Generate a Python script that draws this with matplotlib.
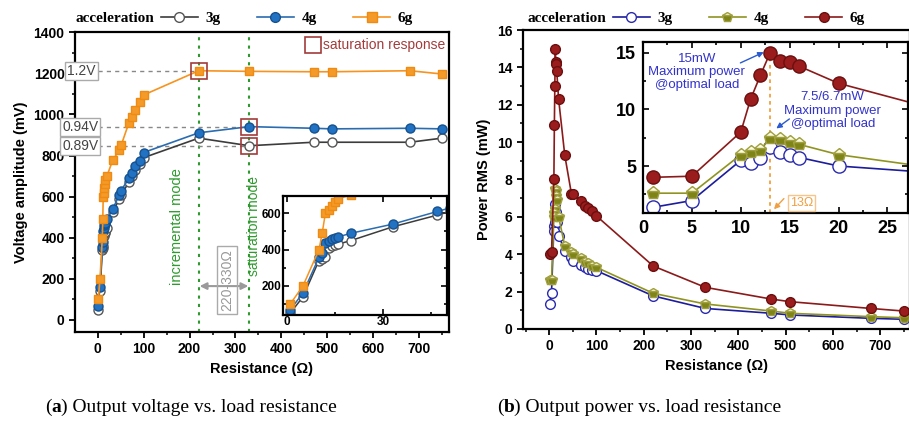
import numpy as np
import matplotlib
matplotlib.use("Agg")
import matplotlib.pyplot as plt
from matplotlib.ticker import MultipleLocator
from matplotlib.lines import Line2D

plt.rcParams['font.family'] = ['Liberation Sans', 'DejaVu Sans']
plt.rcParams['axes.labelweight'] = 'bold'

# load resistance (ohm)
res = [1, 5, 10, 11, 12, 13, 14, 15, 16, 20, 33, 47, 51, 68, 75, 82, 91, 100,
       220, 330, 470, 510, 680, 750]

# output voltage (mV)
volt_3g = [50, 140, 340, 350, 360, 410, 420, 425, 430, 450, 525, 590, 610, 670,
           700, 730, 760, 790, 885, 848, 865, 865, 865, 885]
volt_4g = [68, 162, 357, 380, 435, 450, 460, 465, 470, 490, 540, 610, 630, 690,
           715, 750, 775, 815, 911, 941, 933, 930, 933, 930]
volt_6g = [100, 200, 400, 490, 600, 620, 640, 660, 680, 700, 780, 825, 850, 960,
           990, 1020, 1060, 1095, 1213, 1210, 1208, 1208, 1213, 1197]

# output power RMS (mW)
pow_3g = [1.35, 1.95, 5.5, 5.25, 5.7, 6.7, 6.25, 6.0, 5.75, 5.0, 4.2, 3.85, 3.65,
          3.43, 3.3, 3.2, 3.16, 3.12, 1.77, 1.1, 0.84, 0.75, 0.57, 0.52]
pow_4g = [2.6, 2.6, 6.0, 6.2, 6.4, 7.5, 7.4, 7.1, 6.9, 6.0, 4.45, 4.1, 4.0, 3.78,
          3.6, 3.52, 3.37, 3.3, 1.91, 1.34, 0.96, 0.84, 0.66, 0.6]
pow_6g = [4.0, 4.1, 8.0, 10.9, 13.0, 15.0, 14.3, 14.2, 13.8, 12.3, 9.3, 7.25, 7.2,
          6.85, 6.6, 6.45, 6.3, 6.05, 3.37, 2.23, 1.6, 1.46, 1.1, 0.96]

labels = ['3g', '4g', '6g']

# marker styles for the two panels
sty_a = [dict(color='#3c3c3c', marker='o', mfc='white', mec='#555555', ms=6.5),
         dict(color='#2a6cb0', marker='o', mfc='#2272c3', mec='#16518f', ms=6.5),
         dict(color='#f7931e', marker='s', mfc='#f39a2a', mec='#f08a10', ms=5.5)]
sty_b = [dict(color='#1c1c9c', marker='o', mfc='white', mec='#2a2ab0'),
         dict(color='#8f9420', marker='p', mfc='#7f8418', mec='#a0a040',
              fillstyle='bottom', markerfacecoloralt='#fbfbe0'),
         dict(color='#8b1a1a', marker='o', mfc='#9b1c1c', mec='#6b0f0f')]

fig = plt.figure(figsize=(9.09, 4.25), dpi=100)

def style_main(ax):
    for sp in ax.spines.values():
        sp.set_linewidth(1.6)
    ax.tick_params(which='major', direction='out', length=4, width=1.3, labelsize=10)
    ax.tick_params(which='minor', direction='out', length=2.5, width=1.1)

def style_inset(ax, size, pad):
    for sp in ax.spines.values():
        sp.set_linewidth(1.6)
    ax.tick_params(which='both', direction='in', top=True, right=True, width=1.2)
    ax.tick_params(which='major', length=4, labelsize=size, pad=pad)
    ax.tick_params(which='minor', length=2.5)

# ---------------- (a) voltage ----------------
ax1 = fig.add_axes([0.0825, 0.2195, 0.4114, 0.7045])
for v, s in zip([volt_3g, volt_4g, volt_6g], sty_a):
    ax1.plot(res, v, lw=1.2, mew=1, **s)
ax1.set_xlim(-49.5, 765)
ax1.set_ylim(-57, 1400)
ax1.xaxis.set_major_locator(MultipleLocator(100))
ax1.xaxis.set_minor_locator(MultipleLocator(50))
ax1.yaxis.set_major_locator(MultipleLocator(200))
ax1.yaxis.set_minor_locator(MultipleLocator(100))
style_main(ax1)
ax1.set_xlabel('Resistance (Ω)', fontsize=10.5, labelpad=4)
ax1.set_ylabel('Voltage amplitude (mV)', fontsize=10.5, labelpad=4)

# mode boundaries
for xv in [220, 330]:
    ax1.axvline(xv, color='#2e9a2e', ls=(0, (1.5, 2.5)), lw=1.5, zorder=1)
ax1.text(172, 455, 'incremental mode', rotation=90, ha='center', va='center',
         color='#2e9a2e', fontsize=10.5)
ax1.text(341, 455, 'saturation mode', rotation=90, ha='center', va='center',
         color='#2e9a2e', fontsize=10)
ax1.annotate('', xy=(222, 165), xytext=(328, 165),
             arrowprops=dict(arrowstyle='<|-|>', color='#9a9a9a', lw=1.5,
                             mutation_scale=10, shrinkA=0, shrinkB=0))
ax1.text(282, 195, '220-330Ω', rotation=90, ha='center', va='center', color='#999999',
         fontsize=10, bbox=dict(fc='none', ec='#aaaaaa', lw=1, pad=2))

# saturation levels
sat_pts = [(220, volt_6g[18], '1.2V', -36), (330, volt_4g[19], '0.94V', -38),
           (330, volt_3g[19], '0.89V', -38)]
for xr, yv, txt, xt in sat_pts:
    ax1.plot([0, xr], [yv, yv], ls=(0, (3, 3)), color='#888888', lw=1, zorder=1)
    ax1.plot(xr, yv, marker='s', ms=12, mfc='none', mec='#a33b3b', mew=1.2, zorder=5)
    ax1.text(xt, yv, txt, ha='center', va='center', color='#444444', fontsize=10,
             clip_on=False, zorder=6,
             bbox=dict(fc='white', ec='#aaaaaa', lw=1, pad=1.5))
ax1.plot(469, 1338, marker='s', ms=12, mfc='none', mec='#a33b3b', mew=1.2)
ax1.text(490, 1338, 'saturation response', ha='left', va='center', color='#a33b3b',
         fontsize=10)

# inset of low resistance region
ax1i = fig.add_axes([0.3113, 0.2588, 0.1804, 0.28])
for v, s in zip([volt_3g, volt_4g, volt_6g], sty_a):
    ax1i.plot(res, v, lw=1.1, mew=1, **s)
ax1i.set_xlim(-1.25, 50)
ax1i.set_ylim(40, 695)
ax1i.xaxis.set_major_locator(MultipleLocator(30))
ax1i.xaxis.set_minor_locator(MultipleLocator(15))
ax1i.yaxis.set_major_locator(MultipleLocator(200))
ax1i.yaxis.set_minor_locator(MultipleLocator(100))
style_inset(ax1i, 8.5, 1)

# ---------------- (b) power ----------------
ax2 = fig.add_axes([0.575, 0.2259, 0.4261, 0.7035])
for p, s in zip([pow_3g, pow_4g, pow_6g], sty_b):
    ax2.plot(res, p, lw=1.2, ms=7, mew=1, **s)
ax2.set_xlim(-56, 763)
ax2.set_ylim(0, 16)
ax2.xaxis.set_major_locator(MultipleLocator(100))
ax2.xaxis.set_minor_locator(MultipleLocator(50))
ax2.yaxis.set_major_locator(MultipleLocator(2))
ax2.yaxis.set_minor_locator(MultipleLocator(1))
style_main(ax2)
ax2.set_xlabel('Resistance (Ω)', fontsize=10.5, labelpad=4)
ax2.set_ylabel('Power RMS (mW)', fontsize=10.5, labelpad=4)

ax2i = fig.add_axes([0.7074, 0.4988, 0.2915, 0.4024])
for p, s in zip([pow_3g, pow_4g, pow_6g], sty_b):
    ax2i.plot(res, p, lw=1.2, ms=9.5, mew=1, **s)
ax2i.set_xlim(0, 27.1)
ax2i.set_ylim(0.85, 15.95)
ax2i.xaxis.set_major_locator(MultipleLocator(5))
ax2i.xaxis.set_minor_locator(MultipleLocator(2.5))
ax2i.yaxis.set_major_locator(MultipleLocator(5))
ax2i.yaxis.set_minor_locator(MultipleLocator(2.5))
style_inset(ax2i, 13, 5)

# optimal load marker
ax2i.plot([13, 13], [0.85, pow_6g[5]], ls=(0, (2, 2)), color='#f0a040', lw=1.3, zorder=1)
ax2i.text(5.5, 13.3, '15mW\nMaximum power\n@optimal load', ha='center', va='center',
          color='#3333cc', fontsize=9.5, linespacing=1.15)
ax2i.annotate('', xy=(12.6, 15.15), xytext=(9.7, 14.0),
              arrowprops=dict(arrowstyle='-|>', color='#2a5ad0', lw=1, mutation_scale=8))
ax2i.text(19.4, 9.9, '7.5/6.7mW\nMaximum power\n@optimal load', ha='center', va='center',
          color='#3333cc', fontsize=9.5, linespacing=1.15)
ax2i.annotate('', xy=(13.4, 8.17), xytext=(15.2, 9.3),
              arrowprops=dict(arrowstyle='-|>', color='#2a5ad0', lw=1, mutation_scale=8))
ax2i.text(16.2, 1.75, '13Ω', ha='center', va='center', color='#f0a040', fontsize=9,
          bbox=dict(fc='white', ec='#f5c58a', lw=1, pad=1.5))
ax2i.annotate('', xy=(13.2, 1.0), xytext=(14.6, 2.3),
              arrowprops=dict(arrowstyle='-|>', color='#f0a040', lw=1, mutation_scale=8))

# legends above each panel
serif = dict(family='Liberation Serif', weight='bold', size=11)
for ax, sty, x0 in [(ax1, sty_a, 75), (ax2, sty_b, 527)]:
    fig.text(x0 / 909, 1 - 18 / 425, 'acceleration', ha='left', va='center', **serif)
    handles = [Line2D([], [], lw=1.2, mew=1, **dict(s, ms=7)) for s in sty]
    fig.legend(handles, labels, loc='center left',
               bbox_to_anchor=((x0 + 86) / 909, 1 - 18 / 425), ncol=3, frameon=False,
               prop=serif, handlelength=2.4, handletextpad=0.5, columnspacing=2.4,
               borderaxespad=0, borderpad=0)

# bold tick labels
fig.canvas.draw()
for ax in [ax1, ax1i, ax2, ax2i]:
    for lab in ax.get_xticklabels() + ax.get_yticklabels():
        lab.set_fontweight('bold')

# captions: "(a) ..." with bold panel letter
cap = dict(family='Liberation Serif', size=14)
rend = fig.canvas.get_renderer()
for x0, letter, rest in [(45, 'a', ' Output voltage vs. load resistance'),
                         (497, 'b', ' Output power vs. load resistance')]:
    x = x0
    for part, wt in [('(', 'normal'), (letter, 'bold'), (')' + rest, 'normal')]:
        t = fig.text(x / 909, 13 / 425, part, ha='left', va='baseline', weight=wt, **cap)
        x = t.get_window_extent(rend).x1

fig.savefig('out.png', dpi=100)
